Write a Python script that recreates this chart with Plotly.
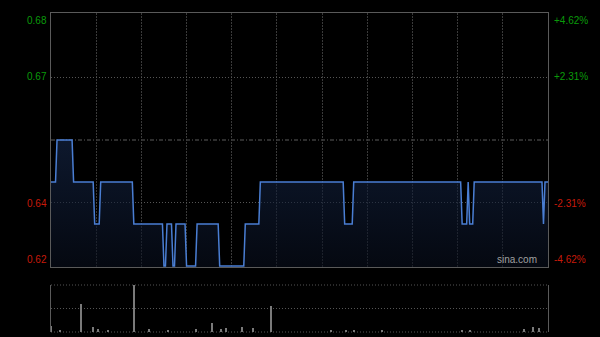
import plotly.graph_objects as go

# ---- data ----
prev_close = 0.655
# price runs: level and number of minutes at that level (t = 0..330)
run_price = [0.645, 0.655, 0.645, 0.635, 0.645, 0.635, 0.625, 0.635, 0.625, 0.635,
             0.625, 0.635, 0.625, 0.635, 0.645, 0.635, 0.645, 0.635, 0.645, 0.635,
             0.645, 0.635, 0.645]
run_len = [4, 11, 14, 4, 22, 20, 2, 4, 2, 7,
           7, 15, 17, 10, 56, 6, 72, 4, 1, 3,
           46, 1, 3]
# volume bars (minute index, relative volume)
vol_min = [0, 6, 20, 28, 31, 38, 55, 65, 78, 96, 107, 113, 116, 127, 134, 146,
           186, 196, 201, 220, 273, 278, 314, 320, 324]
vol_val = [13, 4, 60, 11, 6, 5, 100, 6, 4, 6, 19, 6, 8, 10, 9, 55,
           4, 4, 4, 4, 4, 4, 6, 11, 8]
left_labels = ["0.68", "0.67", "0.64", "0.62"]
right_labels = ["+4.62%", "+2.31%", "-2.31%", "-4.62%"]
pct_levels = [0.0462, 0.0231, -0.0231, -0.0462]

# expand runs
price = []
for p, n in zip(run_price, run_len):
    price += [p] * n
minutes = list(range(len(price)))

hi = prev_close * (1 + pct_levels[0])
lo = prev_close * (1 + pct_levels[-1])

W, H = 600, 337
ml, mr, mt, mb = 51, 52, 13, 5
ph = H - mt - mb
main_bottom = (332 - 267) / ph
vol_top = (332 - 285) / ph

fig = go.Figure()
fig.add_trace(go.Scatter(
    x=minutes, y=price, mode="lines",
    line=dict(color="#4a7ed3", width=1.5),
    fill="tozeroy",
    fillgradient=dict(type="vertical",
                      colorscale=[[0, "rgba(8,14,28,0.6)"], [1, "rgba(22,40,75,0.6)"]],
                      start=lo, stop=prev_close),
    xaxis="x", yaxis="y", hoverinfo="skip"))
fig.add_trace(go.Bar(
    x=vol_min, y=vol_val, width=0.66,
    marker=dict(color="#7a7a7a", line=dict(width=0)),
    xaxis="x2", yaxis="y2", hoverinfo="skip"))

grid = "#3a3a3a"
border = "#5a5a5a"
fig.update_layout(
    width=W, height=H,
    margin=dict(l=ml, r=mr, t=mt, b=mb),
    paper_bgcolor="#000", plot_bgcolor="#000",
    showlegend=False, bargap=0,
    xaxis=dict(domain=[0, 1], range=[0, 330], anchor="y",
               tickvals=list(range(30, 330, 30)), showticklabels=False, ticks="",
               showgrid=True, gridcolor=grid, griddash="2px,1px", gridwidth=1,
               zeroline=False, showline=True, mirror=True, linecolor=border, linewidth=1),
    yaxis=dict(domain=[main_bottom, 1], range=[lo, hi], anchor="x",
               tickvals=[0.67, 0.64], showticklabels=False, ticks="",
               showgrid=True, gridcolor="#555555", griddash="1px,2px", gridwidth=1,
               zeroline=False, showline=True, mirror=True, linecolor=border, linewidth=1),
    xaxis2=dict(domain=[0, 1], range=[0, 330], anchor="y2",
                showticklabels=False, ticks="", showgrid=False, zeroline=False, showline=False),
    yaxis2=dict(domain=[0, vol_top], range=[0, 100], anchor="x2",
                tickvals=[50], showticklabels=False, ticks="",
                showgrid=True, gridcolor="#555555", griddash="1px,2px", gridwidth=1,
                zeroline=False, showline=True, mirror=True, linecolor=border, linewidth=1),
    shapes=[
        dict(type="line", xref="x domain", yref="y", x0=0, x1=1,
             y0=prev_close, y1=prev_close,
             line=dict(color="#5c5c5c", width=1, dash="4px,2px,1px,2px"), layer="below"),
        dict(type="line", xref="x2 domain", yref="y2 domain", x0=0, x1=1, y0=1, y1=1,
             line=dict(color="#555555", width=1, dash="1px,2px"), layer="below"),
        dict(type="line", xref="x2 domain", yref="y2 domain", x0=0, x1=1, y0=0, y1=0,
             line=dict(color="#555555", width=1, dash="1px,2px"), layer="below"),
    ],
)

green = "#0a9a0a"
red = "#c81a0a"
font_fam = "Arial, Liberation Sans, sans-serif"
anns = []
for i, (lt, rt, pc) in enumerate(zip(left_labels, right_labels, pct_levels)):
    yv = prev_close * (1 + pc)
    col = green if pc > 0 else red
    if i == 0:
        ya = "top"
    elif i == len(pct_levels) - 1:
        ya = "bottom"
    else:
        ya = "middle"
    anns.append(dict(xref="paper", yref="y", x=0, y=yv, text=lt, showarrow=False,
                     xanchor="right", yanchor=ya, xshift=-2,
                     font=dict(family=font_fam, size=10, color=col)))
    anns.append(dict(xref="paper", yref="y", x=1, y=yv, text=rt, showarrow=False,
                     xanchor="left", yanchor=ya, xshift=4,
                     font=dict(family=font_fam, size=10, color=col)))
anns.append(dict(xref="paper", yref="y", x=1, y=lo, text="sina.com", showarrow=False,
                 xanchor="right", yanchor="bottom", xshift=-9, yshift=0,
                 font=dict(family=font_fam, size=10, color="#a0a0a0")))
fig.update_layout(annotations=anns)

fig.write_html("out.html")
